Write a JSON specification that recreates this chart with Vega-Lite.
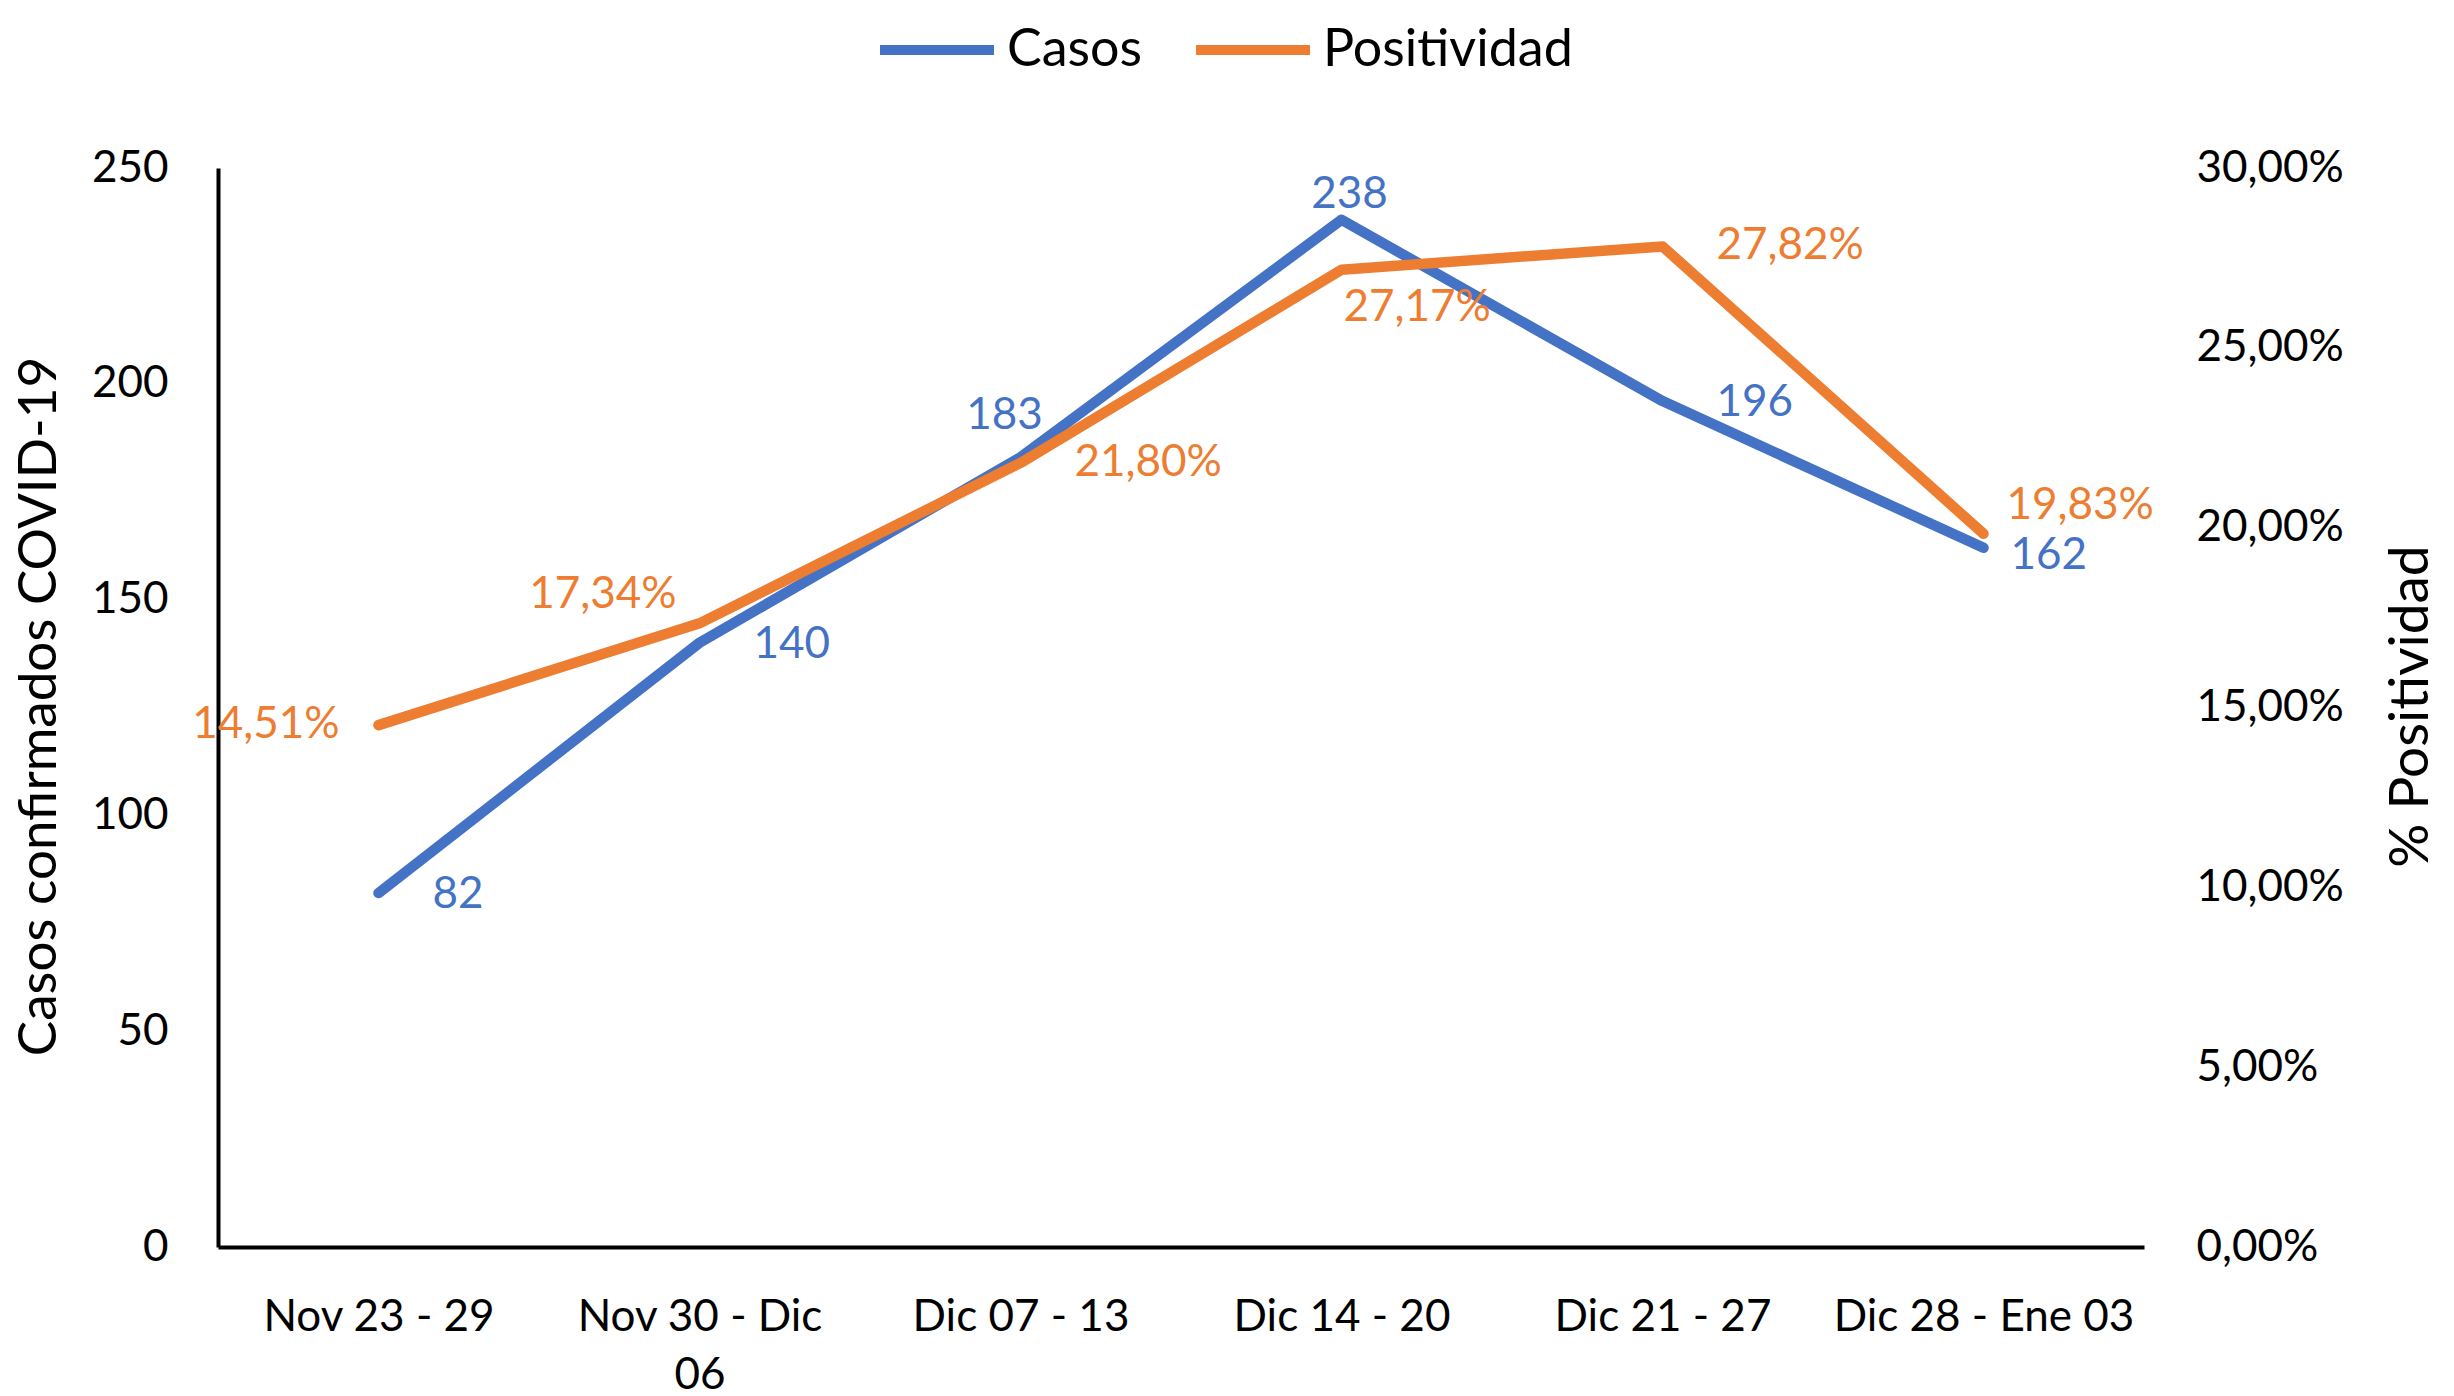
{
  "$schema": "https://vega.github.io/schema/vega-lite/v6.json",
  "autosize": "none",
  "width": 1926,
  "height": 1079,
  "padding": {"left": 218, "top": 168, "right": 310, "bottom": 149},
  "background": "white",
  "data": {"values": [
    {"semana": "Nov 23 - 29", "casos": 82, "positividad": 0.1451},
    {"semana": "Nov 30 - Dic 06", "casos": 140, "positividad": 0.1734},
    {"semana": "Dic 07 - 13", "casos": 183, "positividad": 0.2180},
    {"semana": "Dic 14 - 20", "casos": 238, "positividad": 0.2717},
    {"semana": "Dic 21 - 27", "casos": 196, "positividad": 0.2782},
    {"semana": "Dic 28 - Ene 03", "casos": 162, "positividad": 0.1983}
  ]},
  "encoding": {
    "x": {
      "field": "semana", "type": "ordinal", "sort": null,
      "axis": {
        "title": null, "labelAngle": 0, "ticks": false, "tickSize": 0,
        "labelPadding": 48, "domainColor": "#000000", "domainWidth": 4,
        "labelFontSize": 44, "labelLineHeight": 58, "labelColor": "#000000", "labelLimit": 0,
        "labelExpr": "datum.label == 'Nov 30 - Dic 06' ? ['Nov 30 - Dic', '06'] : datum.label"
      }
    }
  },
  "layer": [
    {
      "encoding": {
        "y": {
          "field": "casos", "type": "quantitative",
          "scale": {"domain": [0, 250], "nice": false},
          "axis": {
            "title": "Casos confirmados COVID-19", "values": [0, 50, 100, 150, 200, 250],
            "grid": false, "ticks": false, "tickSize": 0, "labelPadding": 50,
            "domainColor": "#000000", "domainWidth": 4, "labelFontSize": 44, "labelColor": "#000000",
            "titleFontSize": 53, "titleFontWeight": "normal", "titleColor": "#000000", "titleLimit": 0,
            "titleX": -179, "titleY": 538, "titleAngle": -90, "titleBaseline": "middle", "titleAlign": "center"
          }
        }
      },
      "layer": [
        {"mark": {"type": "line", "strokeWidth": 10.5, "strokeCap": "round", "strokeJoin": "round"},
         "encoding": {"color": {"datum": "Casos", "type": "nominal"}}},
        {"transform": [{"filter": {"field": "semana", "oneOf": ["Nov 23 - 29", "Nov 30 - Dic 06", "Dic 21 - 27"]}}],
         "mark": {"type": "text", "align": "left", "baseline": "middle", "dx": 54, "dy": 2, "color": "#4472C4", "fontSize": 44},
         "encoding": {"text": {"field": "casos", "type": "quantitative"}}},
        {"transform": [{"filter": {"field": "semana", "equal": "Dic 28 - Ene 03"}}],
         "mark": {"type": "text", "align": "left", "baseline": "middle", "dx": 27, "dy": 8, "color": "#4472C4", "fontSize": 44},
         "encoding": {"text": {"field": "casos", "type": "quantitative"}}},
        {"transform": [{"filter": {"field": "semana", "equal": "Dic 07 - 13"}}],
         "mark": {"type": "text", "align": "center", "baseline": "middle", "dx": -16, "dy": -41, "color": "#4472C4", "fontSize": 44},
         "encoding": {"text": {"field": "casos", "type": "quantitative"}}},
        {"transform": [{"filter": {"field": "semana", "equal": "Dic 14 - 20"}}],
         "mark": {"type": "text", "align": "center", "baseline": "middle", "dx": 8, "dy": -25, "color": "#4472C4", "fontSize": 44},
         "encoding": {"text": {"field": "casos", "type": "quantitative"}}}
      ]
    },
    {
      "encoding": {
        "y": {
          "field": "positividad", "type": "quantitative",
          "scale": {"domain": [0, 0.3], "nice": false},
          "axis": {
            "title": "% Positividad", "orient": "right", "format": ".2%",
            "values": [0, 0.05, 0.1, 0.15, 0.2, 0.25, 0.3],
            "grid": false, "ticks": false, "tickSize": 0, "domain": false, "labelPadding": 52,
            "labelAlign": "left", "labelFontSize": 44, "labelColor": "#000000",
            "titleFontSize": 55, "titleFontWeight": "normal", "titleColor": "#000000", "titleLimit": 0,
            "titleX": 266, "titleY": 538, "titleAngle": -90, "titleBaseline": "middle", "titleAlign": "center"
          }
        }
      },
      "layer": [
        {"mark": {"type": "line", "strokeWidth": 10.5, "strokeCap": "round", "strokeJoin": "round"},
         "encoding": {"color": {"datum": "Positividad", "type": "nominal"}}},
        {"transform": [{"filter": {"field": "semana", "oneOf": ["Dic 07 - 13", "Dic 21 - 27"]}}],
         "mark": {"type": "text", "align": "left", "baseline": "middle", "dx": 54, "dy": 0, "color": "#ED7D31", "fontSize": 44},
         "encoding": {"text": {"field": "positividad", "type": "quantitative", "format": ".2%"}}},
        {"transform": [{"filter": {"field": "semana", "equal": "Nov 23 - 29"}}],
         "mark": {"type": "text", "align": "right", "baseline": "middle", "dx": -39, "dy": 0, "color": "#ED7D31", "fontSize": 44},
         "encoding": {"text": {"field": "positividad", "type": "quantitative", "format": ".2%"}}},
        {"transform": [{"filter": {"field": "semana", "equal": "Nov 30 - Dic 06"}}],
         "mark": {"type": "text", "align": "right", "baseline": "middle", "dx": -23, "dy": -28, "color": "#ED7D31", "fontSize": 44},
         "encoding": {"text": {"field": "positividad", "type": "quantitative", "format": ".2%"}}},
        {"transform": [{"filter": {"field": "semana", "equal": "Dic 14 - 20"}}],
         "mark": {"type": "text", "align": "left", "baseline": "middle", "dx": 2, "dy": 38, "color": "#ED7D31", "fontSize": 44},
         "encoding": {"text": {"field": "positividad", "type": "quantitative", "format": ".2%"}}},
        {"transform": [{"filter": {"field": "semana", "equal": "Dic 28 - Ene 03"}}],
         "mark": {"type": "text", "align": "left", "baseline": "middle", "dx": 23, "dy": -28, "color": "#ED7D31", "fontSize": 44},
         "encoding": {"text": {"field": "positividad", "type": "quantitative", "format": ".2%"}}}
      ]
    }
  ],
  "resolve": {"scale": {"y": "independent"}},
  "config": {
    "font": "Lato",
    "view": {"stroke": null},
    "locale": {"number": {"decimal": ",", "thousands": ".", "grouping": [3], "currency": ["", " €"]}},
    "range": {"category": ["#4472C4", "#ED7D31"]},
    "legend": {
      "orient": "none", "direction": "horizontal", "legendX": 657, "legendY": -180,
      "title": null, "symbolType": "stroke", "symbolSize": 12996, "symbolStrokeWidth": 10,
      "labelFontSize": 52, "labelColor": "#000000", "labelOffset": 8, "columnPadding": 33, "labelLimit": 0
    }
  }
}
